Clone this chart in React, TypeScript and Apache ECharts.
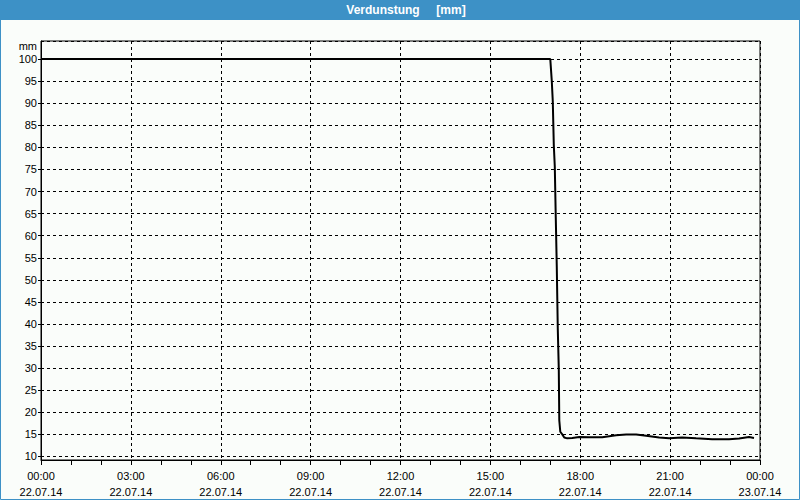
import React, { useEffect, useRef } from "react";
import * as echarts from "echarts";

// time in minutes since 22.07.14 00:00
const times: number[] = [
  0, 60, 120, 180, 240, 300, 360, 420, 480, 540, 600, 660, 720, 780, 840, 900, 960, 1020,
  1023, 1025, 1027, 1029, 1031, 1033, 1035, 1037, 1038, 1040, 1044, 1048, 1054,
  1064, 1078, 1098, 1124, 1152, 1172, 1192, 1212, 1238, 1258, 1284, 1312, 1344, 1378, 1398, 1418, 1428,
];
const values: number[] = [
  100, 100, 100, 100, 100, 100, 100, 100, 100, 100, 100, 100, 100, 100, 100, 100, 100, 100,
  95, 90.4, 80.6, 75.7, 64, 52.9, 38.9, 29.9, 18.2, 15.6, 15.0, 14.3, 14.1,
  14.2, 14.4, 14.35, 14.35, 14.8, 15.0, 15.0, 14.7, 14.3, 14.1, 14.3, 14.1, 13.9, 13.9, 14.05, 14.4, 14.2,
];
const dayLabels: string[] = ["22.07.14", "23.07.14"];
const titleText = "Verdunstung     [mm]";
const unitText = "mm";

const FONT = "Liberation Sans";

export default function App() {
  const ref = useRef<HTMLDivElement>(null);
  useEffect(() => {
    if (!ref.current) return;
    const chart = echarts.init(ref.current, undefined, { renderer: "svg" });
    const data = times.map((t, i) => [t, values[i]]);
    const pad = (n: number) => (n < 10 ? "0" + n : "" + n);
    chart.setOption({
      animation: false,
      backgroundColor: "#fafdfa",
      grid: {
        left: 41,
        right: 40,
        top: 41,
        bottom: 39,
        show: true,
        borderColor: "#000",
        borderWidth: 1,
        backgroundColor: "transparent",
      },
      xAxis: {
        type: "value",
        min: 0,
        max: 1440,
        interval: 180,
        axisLine: { show: true, lineStyle: { color: "#000", width: 1 } },
        axisTick: { show: true, length: 5, lineStyle: { color: "#000" } },
        minorTick: { show: true, splitNumber: 3, length: 5, lineStyle: { color: "#000" } },
        splitLine: { show: true, lineStyle: { color: "#000", type: [3, 3], width: 1 } },
        axisLabel: {
          color: "#000",
          fontFamily: FONT,
          fontSize: 11,
          lineHeight: 16,
          margin: 8,
          showMinLabel: true,
          showMaxLabel: true,
          formatter: (v: number) => {
            const day = Math.floor(v / 1440);
            const m = v % 1440;
            return pad(Math.floor(m / 60)) + ":" + pad(m % 60) + "\n" + dayLabels[day];
          },
        },
      },
      yAxis: {
        type: "value",
        min: 9.2,
        max: 104.1,
        splitNumber: 19,
        minInterval: 5,
        maxInterval: 5,
        axisLine: { show: true, lineStyle: { color: "#000", width: 1 } },
        axisTick: { show: true, length: 3, lineStyle: { color: "#000" } },
        splitLine: { show: true, lineStyle: { color: "#000", type: [3, 3], width: 1 } },
        axisLabel: {
          color: "#000",
          fontFamily: FONT,
          fontSize: 11,
          margin: 4,
          showMinLabel: false,
          showMaxLabel: false,
          formatter: (v: number) => (Math.abs(v % 5) < 1e-6 ? String(v) : ""),
        },
      },
      graphic: [
        {
          type: "rect",
          shape: { x: 0, y: 0, width: 800, height: 20 },
          style: { fill: "#3d91c6" },
          silent: true,
        },
        {
          type: "rect",
          shape: { x: 0.5, y: 0.5, width: 799, height: 499 },
          style: { fill: "none", stroke: "#3d91c6", lineWidth: 1 },
          silent: true,
        },
        {
          type: "text",
          x: 406,
          y: 10,
          style: {
            text: titleText,
            fill: "#fff",
            font: "bold 12px " + FONT,
            align: "center",
            verticalAlign: "middle",
          },
        },
        {
          type: "text",
          x: 37,
          y: 46,
          style: {
            text: unitText,
            fill: "#000",
            font: "11px " + FONT,
            align: "right",
            verticalAlign: "middle",
          },
        },
      ],
      series: [
        {
          type: "line",
          data,
          showSymbol: false,
          symbol: "none",
          lineStyle: { color: "#000", width: 2 },
          smooth: false,
        },
      ],
    });
    return () => chart.dispose();
  }, []);
  return (
    <div
      ref={ref}
      style={{ position: "fixed", left: 0, top: 0, width: 800, height: 500 }}
    />
  );
}
